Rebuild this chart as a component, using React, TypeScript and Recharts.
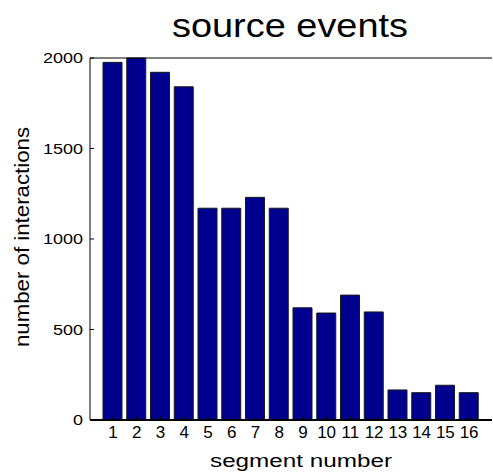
import { Bar, BarChart, XAxis, YAxis } from 'recharts';

const segments = ['1', '2', '3', '4', '5', '6', '7', '8', '9', '10', '11', '12', '13', '14', '15', '16'];
const interactions = [1976, 2000, 1921, 1841, 1170, 1170, 1230, 1170, 620, 591, 690, 597, 166, 151, 192, 151];
const yTicks = [0, 500, 1000, 1500, 2000];

const data = segments.map((s, i) => ({ seg: s, count: interactions[i] }));

const FONT = 'Liberation Sans, Arial, Helvetica, sans-serif';

const YTick = ({ x, y, payload }: any) => {
  const label = String(payload.value);
  return (
    <text x={x} y={y} dy={5} textAnchor="end" fontSize={15} fontFamily={FONT} fill="#000"
      textLength={label.length * 10} lengthAdjust="spacingAndGlyphs">
      {label}
    </text>
  );
};

const XTick = ({ x, y, payload }: any) => (
  <text x={x} y={y} dy={14} textAnchor="middle" fontSize={17} fontFamily={FONT} fill="#000">
    {payload.value}
  </text>
);

export default function App() {
  return (
    <div style={{ position: 'absolute', left: 0, top: 0, width: 493, height: 473, background: '#fff' }}>
      <BarChart width={493} height={473} data={data}
        margin={{ top: 57, right: 0, left: 0, bottom: 0 }} barSize={19}>
        <XAxis xAxisId="bottom" dataKey="seg" orientation="bottom" height={53}
          padding={{ left: 11, right: 11 }} tick={<XTick />} tickSize={-4} tickMargin={8}
          axisLine={{ stroke: '#000', strokeWidth: 2 }} tickLine={{ stroke: '#000' }} interval={0} />
        <XAxis xAxisId="top" dataKey="seg" orientation="top" height={1}
          padding={{ left: 11, right: 11 }} tick={false} tickSize={-4}
          axisLine={{ stroke: '#000' }} tickLine={{ stroke: '#000' }} interval={0} />
        <YAxis yAxisId="left" orientation="left" width={90} domain={[0, 2000]} ticks={yTicks}
          tick={<YTick />} tickSize={-4} tickMargin={11}
          axisLine={{ stroke: '#000' }} tickLine={{ stroke: '#000' }} />
        <YAxis yAxisId="right" orientation="right" width={1} domain={[0, 2000]} ticks={yTicks}
          tick={false} tickSize={-4} axisLine={false} tickLine={{ stroke: '#000' }} />
        <Bar xAxisId="bottom" yAxisId="left" dataKey="count" fill="#00008f"
          stroke="#1a1a1a" strokeWidth={1} isAnimationActive={false} />
      </BarChart>
      <svg width={493} height={473} style={{ position: 'absolute', left: 0, top: 0, pointerEvents: 'none' }}>
        <text x={290} y={36.5} textAnchor="middle" fontSize={34} fontFamily={FONT}
          textLength={236} lengthAdjust="spacingAndGlyphs">source events</text>
        <text x={301} y={467} textAnchor="middle" fontSize={18} fontFamily={FONT}
          textLength={182} lengthAdjust="spacingAndGlyphs">segment number</text>
        <text x={29} y={237} textAnchor="middle" fontSize={21} fontFamily={FONT}
          textLength={220} lengthAdjust="spacingAndGlyphs" transform="rotate(-90 29 237)">number of interactions</text>
      </svg>
    </div>
  );
}
